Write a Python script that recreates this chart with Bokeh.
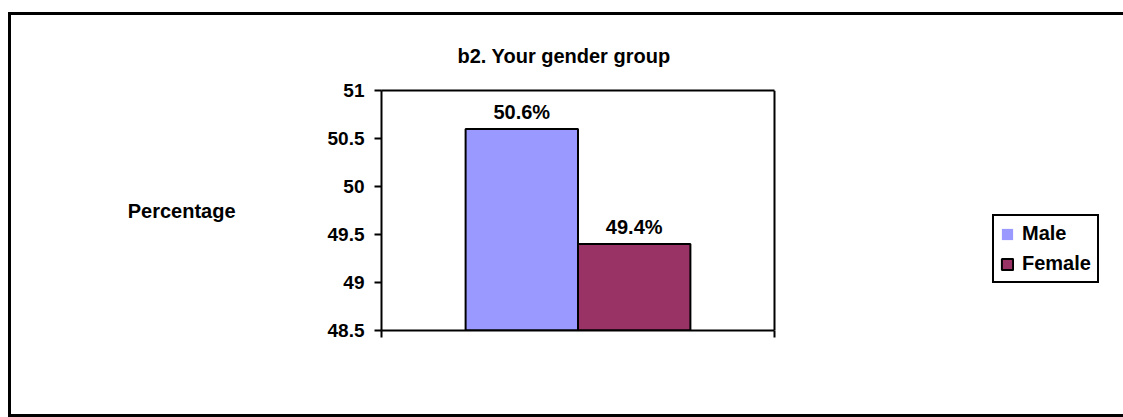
import numpy as np
from bokeh.plotting import figure
from bokeh.models import (Range1d, FixedTicker, LabelSet, ColumnDataSource,
                          Legend, LegendItem, Title, LinearAxis, Span)
from bokeh.core.properties import value
from bokeh.embed import file_html
from bokeh.resources import INLINE

# ---- data ----
categories = ["Male", "Female"]
values = [50.6, 49.4]
colors = ["#9999FF", "#993366"]
y_ticks = [48.5, 49, 49.5, 50, 50.5, 51]
y_tick_labels = ["48.5", "49", "49.5", "50", "50.5", "51"]
title_text = "b2. Your gender group"
y_title = "Percentage"

FONT = "Liberation Sans"
Y0, Y1 = 48.5, 51
PLOT_W = 393      # pixel width of the visible plot area
FRAME_W = 745     # frame extends to the right edge so the legend is not clipped
FRAME_H = 240
bar_w = 0.286
n = len(categories)
xs = [0.5 + (i - (n - 1) / 2) * bar_w for i in range(n)]
src = ColumnDataSource(dict(x=xs, top=values, cat=categories, color=colors,
                            lbl=[f"{v}%" for v in values]))

p = figure(frame_width=FRAME_W, frame_height=FRAME_H,
           x_range=Range1d(0, FRAME_W / PLOT_W), y_range=Range1d(Y0, Y1),
           output_backend="svg", toolbar_location=None, tools="", title=None,
           min_border_left=370, min_border_right=0, min_border_top=75, min_border_bottom=84)
p.styles = {"box-sizing": "content-box", "margin-left": "8px", "margin-top": "12px",
            "border-left": "3px solid black", "border-top": "3px solid black",
            "border-bottom": "3px solid black"}
p.background_fill_color = "white"
p.border_fill_color = "white"
p.outline_line_color = None
p.xgrid.visible = False
p.ygrid.visible = False

p.vbar(x="x", top="top", bottom=Y0, width=bar_w, fill_color="color",
       line_color="black", line_width=2, source=src)

# axes
p.yaxis.ticker = FixedTicker(ticks=y_ticks)
p.yaxis.major_label_overrides = {t: l for t, l in zip(y_ticks, y_tick_labels)}
p.xaxis.ticker = FixedTicker(ticks=[0, 1])
p.xaxis.bounds = (0, 1)
p.xaxis.major_label_overrides = {0: "", 1: ""}
for ax in (p.xaxis, p.yaxis):
    ax.axis_line_width = 2
    ax.axis_line_color = "black"
    ax.major_tick_line_width = 2
    ax.major_tick_line_color = "black"
    ax.major_tick_in = 0
    ax.major_tick_out = 7
    ax.minor_tick_line_color = None
    ax.major_label_text_font = FONT
    ax.major_label_text_font_style = "bold"
    ax.major_label_text_font_size = "19px"
    ax.major_label_text_color = "black"
    ax.major_label_standoff = 10

# top border of plot area
top_ax = LinearAxis(ticker=FixedTicker(ticks=[]), bounds=(0, 1), axis_line_width=2,
                    axis_line_color="black", major_tick_out=0, major_tick_in=0,
                    minor_tick_line_color=None, major_label_standoff=0,
                    major_label_text_font_size="0px")
p.add_layout(top_ax, "above")
# right border of plot area
p.add_layout(Span(location=1, dimension="height", line_color="black", line_width=2))

# y axis title, horizontal, far left
p.yaxis[0].axis_label = y_title
p.yaxis[0].axis_label_orientation = "horizontal"
p.yaxis[0].axis_label_standoff = 89
p.yaxis[0].axis_label_text_font = FONT
p.yaxis[0].axis_label_text_font_style = "bold"
p.yaxis[0].axis_label_text_font_size = "20px"
p.yaxis[0].axis_label_text_color = "black"

# title
t = Title(text=title_text, align="left", offset=76, standoff=48,
          text_font=FONT, text_font_style="bold", text_font_size="20px",
          text_color="black")
p.add_layout(t, "above")

# value labels
p.add_layout(LabelSet(x="x", y="top", text="lbl", source=src, y_offset=10,
                      text_align="center", text_baseline="alphabetic",
                      text_font=value(FONT), text_font_style="bold",
                      text_font_size="20px", text_color="black"))

# legend
items = []
for i, c in enumerate(categories):
    r = p.vbar(x=np.array([np.nan]), top=np.array([np.nan]), width=0.1,
               fill_color=colors[i], line_color=(None if i == 0 else "black"),
               line_width=2)
    items.append(LegendItem(label=c, renderers=[r]))
legend = Legend(items=items, location=(611, 47), border_line_color="black",
                border_line_width=2, border_line_alpha=1, padding=6, spacing=7,
                label_standoff=8, glyph_width=14, glyph_height=14, label_height=20,
                label_text_font=FONT, label_text_font_style="bold",
                label_text_font_size="20px", label_text_color="black",
                background_fill_color="white", background_fill_alpha=1, margin=0)
p.add_layout(legend)

open("out.html", "w").write(file_html(p, INLINE))
